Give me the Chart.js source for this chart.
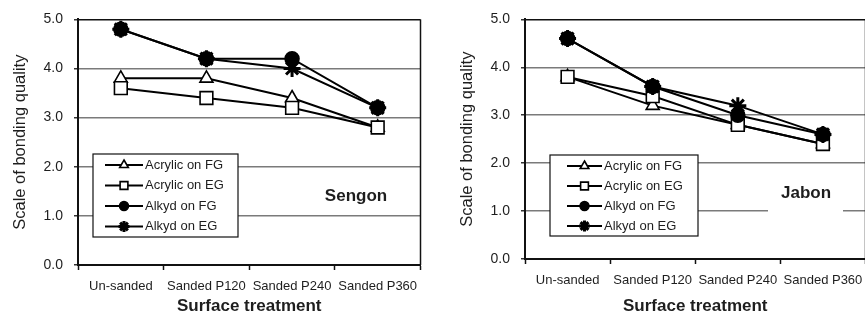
<!DOCTYPE html>
<html>
<head>
<meta charset="utf-8">
<script src="https://cdn.jsdelivr.net/npm/chart.js@4.4.1/dist/chart.umd.min.js"></script>
<style>
  html, body { margin: 0; padding: 0; background: #fff; overflow: hidden; width: 865px; height: 316px; }
  canvas { position: absolute; top: 0; }
  #sengon { left: 0; }
  #jabon { left: 447px; }
</style>
</head>
<body>
<canvas id="sengon" width="432" height="316"></canvas>
<canvas id="jabon" width="430" height="316"></canvas>
<script>
// Categories and series
const categories = ['Un-sanded', 'Sanded P120', 'Sanded P240', 'Sanded P360'];
const seriesNames = ['Acrylic on FG', 'Acrylic on EG', 'Alkyd on FG', 'Alkyd on EG'];
const yTickValues = [0, 1, 2, 3, 4, 5];

const sengonAcrylicFG = [3.8, 3.8, 3.4, 2.8];
const sengonAcrylicEG = [3.6, 3.4, 3.2, 2.8];
const sengonAlkydFG = [4.8, 4.2, 4.2, 3.2];
const sengonAlkydEG = [4.8, 4.2, 4.0, 3.2];

const jabonAcrylicFG = [3.8, 3.2, 2.8, 2.4];
const jabonAcrylicEG = [3.8, 3.4, 2.8, 2.4];
const jabonAlkydFG = [4.6, 3.6, 3.0, 2.6];
const jabonAlkydEG = [4.6, 3.6, 3.2, 2.6];

const FONT = "'Liberation Sans', Arial, sans-serif";
const INK = '#1e1e1e';

// marker look for each series (same order as seriesNames)
const markerStyles = [
    { pointStyle: 'triangle', fill: '#fff', radius: 7.5, legendRadius: 5, bw: 1.6 },
    { pointStyle: 'rect', fill: '#fff', radius: 9, legendRadius: 5.5, bw: 1.6 },
    { pointStyle: 'circle', fill: '#000', radius: 7, legendRadius: 4.5, bw: 1.5 },
    { pointStyle: 'star', fill: '#000', radius: 8.5, legendRadius: 5.5, bw: 3 }
];

// legend box + panel label drawn on top of the plot
const panelDecor = {
    id: 'panelDecor',
    afterDraw(chart, args, opts) {
        const ctx = chart.ctx;
        const area = chart.chartArea;
        ctx.save();

        // right frame of the plot
        ctx.strokeStyle = '#111';
        ctx.lineWidth = 1.5;
        ctx.beginPath();
        ctx.moveTo(area.right, area.top);
        ctx.lineTo(area.right, area.bottom);
        ctx.stroke();

        // panel name
        const lab = opts.label;
        if (lab.clear) {
            ctx.fillStyle = '#fff';
            ctx.fillRect(lab.clear[0], lab.clear[1], lab.clear[2], lab.clear[3]);
        }
        ctx.fillStyle = INK;
        ctx.font = 'bold 17px ' + FONT;
        ctx.textAlign = 'center';
        ctx.textBaseline = 'middle';
        ctx.fillText(lab.text, lab.x, lab.y);

        // legend
        const lg = opts.legend;
        ctx.fillStyle = '#fff';
        ctx.fillRect(lg.x, lg.y, lg.w, lg.h);
        ctx.strokeStyle = '#111';
        ctx.lineWidth = 1.2;
        ctx.strokeRect(lg.x, lg.y, lg.w, lg.h);

        ctx.font = '13px ' + FONT;
        ctx.textAlign = 'left';
        chart.data.datasets.forEach((ds, i) => {
            const y = lg.row0 + i * lg.rowGap;
            ctx.strokeStyle = '#000';
            ctx.lineWidth = 2;
            ctx.beginPath();
            ctx.moveTo(lg.line0, y);
            ctx.lineTo(lg.line1, y);
            ctx.stroke();
            const m = markerStyles[i];
            ctx.fillStyle = m.fill;
            ctx.strokeStyle = '#000';
            ctx.lineWidth = m.bw;
            Chart.helpers.drawPoint(ctx, { pointStyle: m.pointStyle, radius: m.legendRadius, rotation: 0, borderWidth: m.bw },
                (lg.line0 + lg.line1) / 2, y);
            ctx.fillStyle = INK;
            ctx.fillText(ds.label, lg.text, y);
        });
        ctx.restore();
    }
};

function makePanel(id, values, cfg) {
    const datasets = values.map((vals, i) => {
        const m = markerStyles[i];
        return {
            label: seriesNames[i],
            data: vals,
            order: values.length - i, // later series drawn on top, like the original
            borderColor: '#000',
            borderWidth: 2,
            tension: 0,
            pointStyle: m.pointStyle,
            pointRadius: m.radius,
            pointBackgroundColor: m.fill,
            pointBorderColor: '#000',
            pointBorderWidth: m.bw
        };
    });

    return new Chart(document.getElementById(id), {
        type: 'line',
        data: { labels: categories, datasets: datasets },
        plugins: [panelDecor],
        options: {
            responsive: false,
            animation: false,
            layout: { padding: { top: cfg.top, right: 6, left: 0, bottom: 0 } },
            plugins: {
                legend: { display: false },
                tooltip: { enabled: false },
                panelDecor: { label: cfg.label, legend: cfg.legend }
            },
            scales: {
                x: {
                    offset: true,
                    grid: {
                        offset: true,
                        drawOnChartArea: false,
                        drawTicks: true,
                        tickLength: 5,
                        tickColor: '#111',
                        tickWidth: 1.5
                    },
                    border: { color: '#111', width: 2 },
                    ticks: {
                        color: INK,
                        padding: 9,
                        maxRotation: 0,
                        autoSkip: false,
                        font: { family: FONT, size: 13 }
                    },
                    title: {
                        display: true,
                        text: 'Surface treatment',
                        color: INK,
                        font: { family: FONT, size: 17, weight: 'bold', lineHeight: 1 },
                        padding: { top: 0, bottom: 1 }
                    },
                    afterFit: (s) => { s.height = cfg.xHeight; }
                },
                y: {
                    min: 0,
                    max: 5,
                    afterBuildTicks: (s) => { s.ticks = yTickValues.map(v => ({ value: v })); },
                    grid: {
                        color: (c) => (c.tick && c.tick.value === 5 ? '#111' : '#7a7a7a'),
                        lineWidth: 1.5,
                        tickLength: 4,
                        tickColor: '#333'
                    },
                    border: { color: '#111', width: 2 },
                    ticks: {
                        color: INK,
                        padding: 11,
                        font: { family: FONT, size: 14 },
                        callback: (v) => Number(v).toFixed(1)
                    },
                    title: {
                        display: true,
                        text: 'Scale of bonding quality',
                        color: INK,
                        font: { family: FONT, size: 16.5 },
                        padding: { top: 11, bottom: 0 }
                    },
                    afterFit: (s) => { s.width = 78; }
                }
            }
        }
    });
}

makePanel('sengon', [sengonAcrylicFG, sengonAcrylicEG, sengonAlkydFG, sengonAlkydEG], {
    top: 19,
    xHeight: 51,
    label: { text: 'Sengon', x: 356, y: 196 },
    legend: { x: 93, y: 154, w: 145, h: 83, row0: 165, rowGap: 20.5, line0: 105, line1: 143, text: 145 }
});

makePanel('jabon', [jabonAcrylicFG, jabonAcrylicEG, jabonAlkydFG, jabonAlkydEG], {
    top: 17,
    xHeight: 57,
    label: { text: 'Jabon', x: 359, y: 193, clear: [321, 178, 75, 38] },
    legend: { x: 103, y: 155, w: 148, h: 81, row0: 166, rowGap: 20, line0: 120, line1: 155, text: 157 }
});
</script>
</body>
</html>
